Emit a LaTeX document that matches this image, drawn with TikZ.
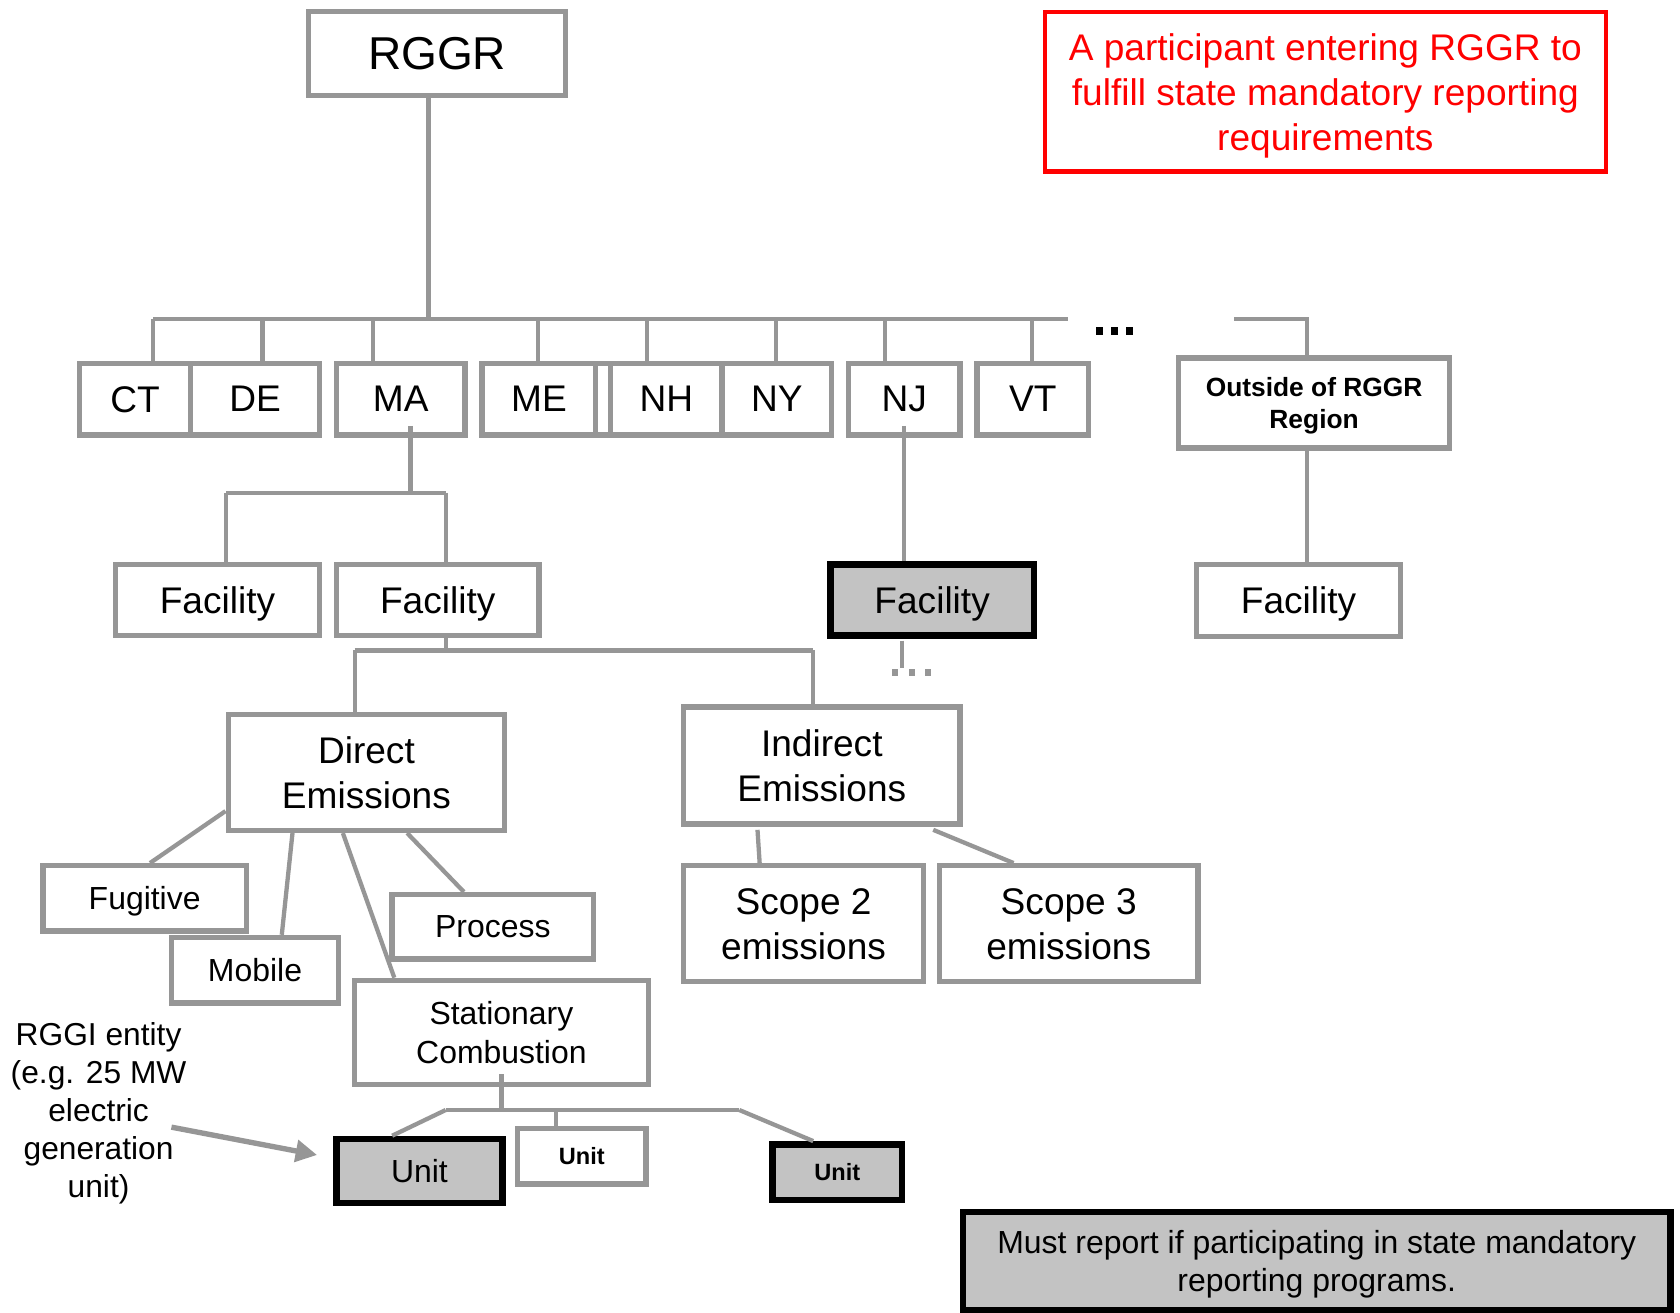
\documentclass[tikz,border=0pt]{standalone}
\usepackage{fontspec}
\setmainfont{Liberation Sans}
\usetikzlibrary{arrows.meta,calc}
\definecolor{lg}{RGB}{150,150,150}
\definecolor{fillg}{RGB}{195,195,195}
\newcommand\fR{\fontsize{21.5}{25}\selectfont}
\newcommand\fRed{\fontsize{17.3}{21}\selectfont}
\newcommand\fBig{\fontsize{17.3}{21}\selectfont}
\newcommand\fMid{\fontsize{14.9}{18}\selectfont}
\newcommand\fOut{\bfseries\fontsize{12.3}{15}\selectfont}
\newcommand\fUb{\bfseries\fontsize{11}{13}\selectfont}
\begin{document}
\begin{tikzpicture}[x=0.5pt,y=-0.5pt,
  gbox/.style={draw=lg, line width=2.5pt, fill=white, inner sep=0pt, align=center, text depth=0pt},
  hbox/.style={draw=black, line width=3pt, fill=fillg, inner sep=0pt, align=center, text depth=0pt},
  conn/.style={draw=lg, line width=2pt},
  bdot/.style={fill=black, inner sep=0pt, minimum width=3pt, minimum height=4pt},
  gdot/.style={fill=lg, inner sep=0pt, minimum width=3pt, minimum height=3.2pt}]
\useasboundingbox (0,0) rectangle (1568,1225);
% top
\node[gbox, minimum width=120pt, minimum height=39pt, font=\fR] (rggr) at (408,50) {RGGR};
\node[draw=red, line width=2pt, text=red, minimum width=262pt, minimum height=74.5pt, align=center, text depth=0pt, font=\fRed] (note) at (1237,85.5) {A participant entering RGGR to\\fulfill state mandatory reporting\\requirements};
% states
\node[gbox, minimum width=52pt, minimum height=33.5pt, font=\fBig] (ct) at (126,372.5) {CT};
\node[gbox, minimum width=60pt, minimum height=33.5pt, font=\fBig] (de) at (238,372.5) {DE};
\node[gbox, minimum width=60pt, minimum height=33.5pt, font=\fBig] (ma) at (374,372.5) {MA};
\node[gbox, minimum width=53pt, minimum height=33.5pt, font=\fBig] (me) at (503,372.5) {ME};
\node[gbox, minimum width=7pt, minimum height=33.5pt] (nx) at (563,372.5) {};
\node[gbox, minimum width=52pt, minimum height=33.5pt, font=\fBig] (nh) at (622,372.5) {NH};
\node[gbox, minimum width=51pt, minimum height=33.5pt, font=\fBig] (ny) at (725,372.5) {NY};
\node[gbox, minimum width=52pt, minimum height=33.5pt, font=\fBig] (nj) at (844,372.5) {NJ};
\node[gbox, minimum width=52pt, minimum height=33.5pt, font=\fBig] (vt) at (964,372.5) {VT};
\node[gbox, minimum width=126.5pt, minimum height=42pt, font=\fOut] (out) at (1226.5,376) {Outside of RGGR\\Region};
% facilities
\node[gbox, minimum width=95pt, minimum height=33pt, font=\fBig] (fac1) at (203,560) {Facility};
\node[gbox, minimum width=94.5pt, minimum height=33pt, font=\fBig] (fac2) at (408.5,560) {Facility};
\node[hbox, minimum width=95pt, minimum height=33pt, font=\fBig] (facnj) at (870,560) {Facility};
\node[gbox, minimum width=95pt, minimum height=33.5pt, font=\fBig] (facout) at (1212,560.5) {Facility};
% emissions
\node[gbox, minimum width=129pt, minimum height=54pt, font=\fBig] (direct) at (342,721) {Direct\\Emissions};
\node[gbox, minimum width=129pt, minimum height=54.5pt, font=\fBig] (indirect) at (767,714.5) {Indirect\\Emissions};
\node[gbox, minimum width=95pt, minimum height=30.5pt, font=\fMid] (fug) at (135,838.5) {Fugitive};
\node[gbox, minimum width=78pt, minimum height=30.5pt, font=\fMid] (mob) at (238,905.5) {Mobile};
\node[gbox, minimum width=94pt, minimum height=30pt, font=\fMid] (proc) at (460,865) {Process};
\node[gbox, minimum width=137pt, minimum height=48.5pt, font=\fMid] (stat) at (468,963.5) {Stationary\\Combustion};
\node[gbox, minimum width=112pt, minimum height=54pt, font=\fBig] (sc2) at (750,862) {Scope 2\\emissions};
\node[gbox, minimum width=120.5pt, minimum height=54pt, font=\fBig] (sc3) at (997.5,862) {Scope 3\\emissions};
% units
\node[hbox, minimum width=77.5pt, minimum height=30pt, font=\fMid] (u1) at (391.5,1093) {Unit};
\node[gbox, minimum width=60pt, minimum height=26pt, font=\fUb] (u2) at (543,1079) {Unit};
\node[hbox, minimum width=60.5pt, minimum height=26pt, font=\fUb] (u3) at (781.5,1094) {Unit};
\node[align=center, text depth=0pt, font=\fontsize{14.8}{17.75}\selectfont] (rggi) at (92,1036) {RGGI entity\\(e.g. 25 MW\\electric\\generation\\unit)};
\node[hbox, minimum width=330pt, minimum height=46pt, text depth=-3pt, font=\fontsize{14.9}{17.5}\selectfont] (must) at (1229,1177) {Must report if participating in state mandatory\\reporting programs.};
% dots
\node[bdot] (bd1) at (1026,309) {};
\node[bdot] (bd2) at (1040,309) {};
\node[bdot] (bd3) at (1054,309) {};
\node[gdot] (gd1) at (835.5,627.5) {};
\node[gdot] (gd2) at (851,627.5) {};
\node[gdot] (gd3) at (866,627.5) {};
% coordinates
\coordinate (rb) at (400,298);
\coordinate (b0) at (143,298);
\coordinate (b1) at (997,298);
\coordinate (ob0) at (1152,298);
\coordinate (ob1) at (1220,298);
\coordinate (mab) at (383,460);
\coordinate (mal) at (211,460);
\coordinate (mar) at (416,460);
\coordinate (fb) at (416,607);
\coordinate (fl) at (331,607);
\coordinate (fr) at (759,607);
\coordinate (sb) at (468,1036);
\coordinate (sl) at (416,1036);
\coordinate (sm) at (519,1036);
\coordinate (sr) at (690,1036);
\coordinate (nje) at (842,623);
\coordinate (arrs) at (160,1052);
% connectors
\draw[conn] (rggr.south -| rb) -- (rb);
\draw[conn] (b0) -- (b1);
\draw[conn] (b0) -- (ct.north -| b0);
\draw[conn] (245,298) -- (de.north -| 245,0);
\draw[conn] (348,298) -- (ma.north -| 348,0);
\draw[conn] (502,298) -- (me.north -| 502,0);
\draw[conn] (604,298) -- (nh.north -| 604,0);
\draw[conn] (724,298) -- (ny.north -| 724,0);
\draw[conn] (826,298) -- (nj.north -| 826,0);
\draw[conn] (963,298) -- (vt.north -| 963,0);
\draw[conn] (ob0) -- (ob1) -- (out.north -| ob1);
\draw[conn] ($(ma.south)+(9,-11)$) -- (mab);
\draw[conn] (mal) -- (mar);
\draw[conn] (mal) -- (fac1.north -| mal);
\draw[conn] (mar) -- (fac2.north -| mar);
\draw[conn] ($(nj.south)+(0,-11)$) -- (facnj.north -| nj);
\draw[conn] (out.south -| ob1) -- (facout.north -| ob1);
\draw[conn] ($(facnj.south)+(-28,2)$) -- (nje);
\draw[conn] (fac2.south -| fb) -- (fb);
\draw[conn] (fl) -- (fr);
\draw[conn] (fl) -- (direct.north -| fl);
\draw[conn] (fr) -- (indirect.north -| fr);
\draw[conn] (direct.west |- 0,757) -- (fug.north -| 140,0);
\draw[conn] (direct.south -| 273,0) -- (mob.north -| 263,0);
\draw[conn] (direct.south -| 320,0) -- (stat.north -| 368,0);
\draw[conn] (direct.south -| 380,0) -- (proc.north -| 433,0);
\draw[conn] ($(indirect.south)+(-60,3)$) -- (sc2.north -| 709,0);
\draw[conn] ($(indirect.south)+(104,3)$) -- (sc3.north -| 946,0);
\draw[conn] ($(stat.south)+(0,-12)$) -- (sb);
\draw[conn] (sl) -- (sr);
\draw[conn] (sl) -- (u1.north -| 366,0);
\draw[conn] (sm) -- (u2.north -| sm);
\draw[conn] (sr) -- (u3.north -| 759,0);
\draw[draw=lg, line width=2.5pt, -{Triangle[length=10pt,width=10pt]}] (arrs) -- ($(u1.west)+(-15,-15)$);
\end{tikzpicture}
\end{document}
